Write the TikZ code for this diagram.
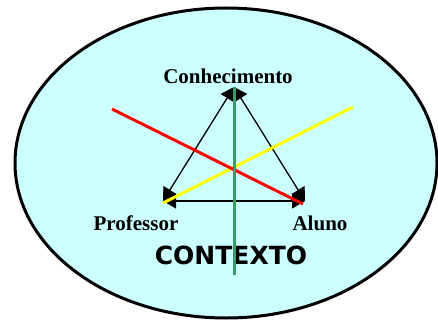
\documentclass[tikz,border=0pt]{standalone}
\usepackage{fontspec}
\setmainfont{Liberation Serif}
\newfontfamily\ctxfont{DejaVu Sans}
\usetikzlibrary{arrows.meta}
\definecolor{ctxfill}{HTML}{CCFFFF}
\definecolor{ctxgreen}{HTML}{3C9A6A}
\definecolor{ctxyellow}{HTML}{FFFF00}
\tikzset{
  lbl/.style={font=\fontsize{21}{23}\selectfont\bfseries, inner sep=0pt},
  side/.style={line width=1.3pt, {Triangle[length=13pt,width=15pt]}-{Triangle[length=13pt,width=15pt]}},
  axis/.style={line width=3pt},
}
\begin{document}
\begin{tikzpicture}[x=1pt,y=-1pt]
\useasboundingbox (0,0) rectangle (438,320);
\draw[line width=3pt, fill=ctxfill] (226,163) ellipse [x radius=211, y radius=155];
\coordinate (C) at (234,87);
\coordinate (P) at (163,201);
\coordinate (A) at (305,201);
\draw[side] (P) -- (C);
\draw[side] (A) -- (C);
\draw[side] (P) -- (A);
\node[lbl] (tc) at (228,76) {Conhecimento};
\node[lbl] (tp) at (136,223) {Professor};
\node[lbl] (ta) at (320,223) {Aluno};
\node[font=\ctxfont\fontsize{25}{27}\selectfont\bfseries, inner sep=0pt] (tx) at (231,255) {CONTEXTO};
\coordinate (y1) at (163,203);
\coordinate (y2) at (353,107);
\coordinate (r1) at (112,109);
\coordinate (r2) at (303,204);
\coordinate (g1) at (234,87);
\coordinate (g2) at (234,275);
\draw[axis, ctxyellow] (y1) -- (y2);
\draw[axis, red] (r1) -- (r2);
\draw[axis, ctxgreen] (g1) -- (g2);
\end{tikzpicture}
\end{document}
